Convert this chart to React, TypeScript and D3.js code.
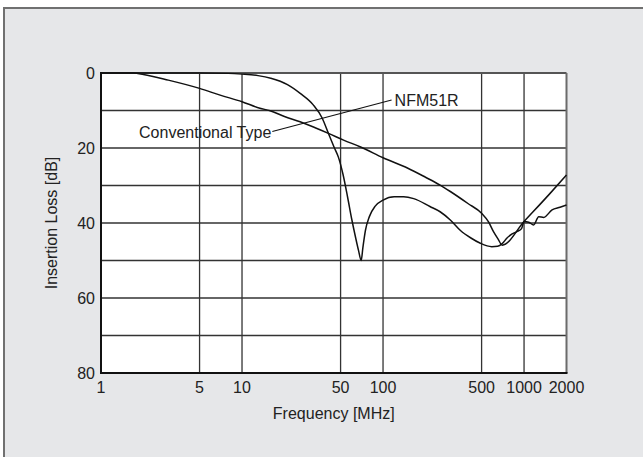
import React from 'react';
import * as d3 from 'd3';

// frequency [MHz] / insertion loss [dB]
const convFreq = [1, 1.7, 2, 3, 5, 7, 10, 13.4, 15.8, 20, 25.8, 33, 41, 52.5, 70, 100, 150, 200, 254, 300, 400, 500, 560, 607, 655, 700, 1000, 1530, 2000];
const convLoss = [0, 0, 0.4, 1.9, 4.1, 5.9, 7.65, 9.4, 10.05, 11.6, 13, 14.6, 16.1, 17.9, 19.8, 22.6, 25.4, 27.8, 29.9, 31.6, 34.8, 37.4, 39.7, 42.3, 44.3, 45.9, 39.6, 32.1, 27.2];

const nfmFreq = [1, 5, 8, 10, 13, 16, 21, 26, 32, 37, 41, 45, 48.3, 52, 56, 60, 64, 67, 70, 72, 75, 80, 88, 100, 120, 140, 165, 215, 254, 300, 354, 420, 490, 590, 650, 700, 757, 823, 890, 960, 1000, 1080, 1170, 1270, 1380, 1580, 1800, 2000];
const nfmLoss = [0, 0, 0.1, 0.3, 0.7, 1.4, 3.1, 5.5, 8.5, 12, 16.1, 19.8, 22.5, 27, 33, 39, 44, 47.3, 50, 46.5, 42, 38.3, 35.5, 33.9, 33, 33, 33.5, 35.6, 37, 39.2, 42, 44, 45.4, 46.3, 46.2, 45.5, 44, 42.9, 42.3, 41.5, 39.6, 39.8, 40.5, 38.3, 38.5, 36.5, 35.8, 35.2];

const xTicks = [1, 5, 10, 50, 100, 500, 1000, 2000];
const xGrid = [5, 10, 50, 100, 500, 1000];
const yTicks = [0, 20, 40, 60, 80];
const yGrid = [10, 20, 30, 40, 50, 60, 70];

// leader line between the two labels (MHz, dB)
const leaderFrom = [16.4, 15.6];
const leaderTo = [115, 7.2];

const W = 643;
const H = 457;
const FONT = '"Liberation Sans", Arial, Helvetica, sans-serif';
const FS = 16;

export default function App() {
  const x = d3.scaleLog().domain([1, 2000]).range([101, 566.5]);
  const y = d3.scaleLinear().domain([0, 80]).range([73, 373]);

  const line = d3.line<[number, number]>()
    .x((d) => x(d[0]))
    .y((d) => y(d[1]))
    .curve(d3.curveMonotoneX);

  const conv = line(convFreq.map((f, i) => [f, convLoss[i]]) as [number, number][]) ?? '';
  const nfm = line(nfmFreq.map((f, i) => [f, nfmLoss[i]]) as [number, number][]) ?? '';

  const [x0, x1] = x.range();
  const [y0, y1] = y.range();

  return (
    <svg width={W} height={H} style={{ position: 'absolute', left: 0, top: 0, background: '#fff' }} fontFamily={FONT}>
      <rect x={4} y={8} width={700} height={500} fill="#e6e7e9" stroke="#707070" strokeWidth={2} />
      <rect x={x0} y={y0} width={x1 - x0} height={y1 - y0} fill="#fff" />

      {/* grid */}
      {xGrid.map((f) => (
        <line key={'gx' + f} x1={x(f)} x2={x(f)} y1={y0} y2={y1} stroke="#333" strokeWidth={1.3} />
      ))}
      {yGrid.map((v) => (
        <line key={'gy' + v} x1={x0} x2={x1} y1={y(v)} y2={y(v)} stroke="#333" strokeWidth={1.3} />
      ))}

      {/* frame */}
      <line x1={x0} x2={x1} y1={y0} y2={y0} stroke="#555" strokeWidth={2} />
      <line x1={x1} x2={x1} y1={y0} y2={y1} stroke="#6b6b6b" strokeWidth={2} />
      <line x1={x0} x2={x0} y1={y0 - 1} y2={y1 + 1} stroke="#111" strokeWidth={2} />
      <line x1={x0} x2={x1 + 1} y1={y1} y2={y1} stroke="#111" strokeWidth={2} />

      {/* curves */}
      <path d={conv} fill="none" stroke="#111" strokeWidth={1.5} />
      <path d={nfm} fill="none" stroke="#111" strokeWidth={1.5} />

      {/* labels */}
      <line x1={x(leaderFrom[0])} y1={y(leaderFrom[1])} x2={x(leaderTo[0])} y2={y(leaderTo[1])} stroke="#111" strokeWidth={1.2} />
      <text x={x(leaderFrom[0]) - 1} y={y(leaderFrom[1]) + 6} textAnchor="end" fontSize={FS} fill="#222">Conventional Type</text>
      <text x={x(leaderTo[0]) + 3} y={y(leaderTo[1]) + 5.5} fontSize={FS} fill="#222">NFM51R</text>

      {/* axes labels */}
      {yTicks.map((v) => (
        <text key={'yt' + v} x={95} y={y(v)} dy="0.36em" textAnchor="end" fontSize={FS} fill="#222">{v}</text>
      ))}
      {xTicks.map((f) => (
        <text key={'xt' + f} x={x(f)} y={393} textAnchor="middle" fontSize={FS} fill="#222">{f}</text>
      ))}
      <text x={(x0 + x1) / 2} y={419} textAnchor="middle" fontSize={FS} fill="#222">Frequency [MHz]</text>
      <text transform={`translate(57,${(y0 + y1) / 2}) rotate(-90)`} textAnchor="middle" fontSize={FS} fill="#222">Insertion Loss [dB]</text>
    </svg>
  );
}
